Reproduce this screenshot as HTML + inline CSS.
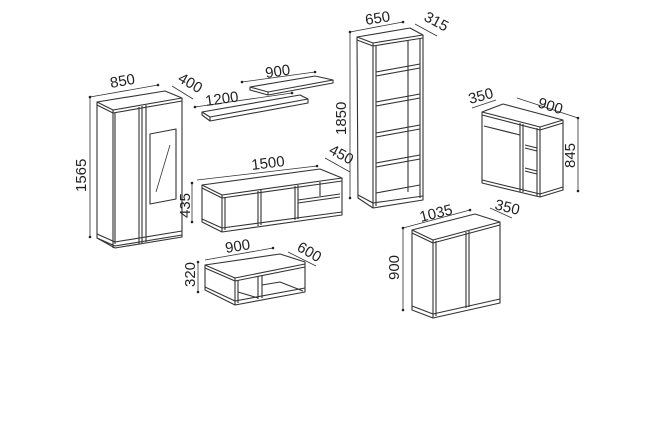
<!DOCTYPE html>
<html><head><meta charset="utf-8"><style>
html,body{margin:0;padding:0;background:#fff;}
svg{display:block}
text{font-family:"Liberation Sans",sans-serif;font-size:15px;fill:#222;stroke:none}
</style></head><body>
<svg width="655" height="425" viewBox="0 0 655 425" xmlns="http://www.w3.org/2000/svg">
<g fill="none" stroke="#333" stroke-width="1.1" stroke-linejoin="round">
<path d="M97,102 L165,91 L182,98 L182,237 L115,248 L97,238 Z" fill="#fff"/>
<path d="M97,102 L113,110 L182,98 M97,105 L113,113 L182,101"/>
<path d="M113,110 L113,248 M115,113 L115,244"/>
<path d="M139,107 L139,244 M142,106 L142,243 M146,105 L146,242"/>
<path d="M150,134 L176,129 L176,199 L150,204 Z"/>
<path d="M156,192 L170,145" stroke-width="0.8"/>
<path d="M97,234 L115,242 L182,231 M97,238 L115,246 L182,235"/>
<path d="M90,97 L158,85 M172,86 L193,99 M90,98 L90,237" stroke-width="0.8"/>
<path d="M202,112 L300,95 L308,99 L210,117 Z M210,117 L210,121 L308,103 L308,99 M202,112 L202,115 L210,121"/>
<path d="M250,87 L315,76 L333,80 L268,92 Z M268,92 L268,95 L333,83 L333,80 M250,87 L250,90 L268,95"/>
<path d="M195,107 L292,93 M242,82 L315,72" stroke-width="0.8"/>
<path d="M357,37 L410,28 L423,35 L423,200 L373,208 L358,198 Z" fill="#fff"/>
<path d="M357,37 L373,43 L423,35 M357,40 L373,46 L423,38"/>
<path d="M373,43 L373,208 M376,46 L376,206"/>
<path d="M408,40 L408,192 M420,38 L420,198"/>
<path d="M376,72 L420,64 M376,76 L420,68"/>
<path d="M376,102 L420,94 M376,106 L420,98"/>
<path d="M376,133 L420,125 M376,137 L420,129"/>
<path d="M376,163 L420,155 M376,167 L420,159"/>
<path d="M376,193 L420,185 M358,195 L373,203 L423,196"/>
<path d="M350,32 L403,22 M415,24 L437,36 M350,33 L350,198" stroke-width="0.8"/>
<path d="M482,112 L503,104 L563,120 L563,190 L540,197 L482,183 Z" fill="#fff"/>
<path d="M482,112 L540,127 L563,120 M482,115 L540,130 L563,123"/>
<path d="M540,127 L540,197 M537,128 L537,196"/>
<path d="M520,123 L520,192 M523,124 L523,192"/>
<path d="M484,126 L520,135"/>
<path d="M525,145 L537,148 M525,148 L537,151 M525,168 L537,171 M525,171 L537,174"/>
<path d="M482,180 L540,194 L563,187"/>
<path d="M472,108 L496,100 M517,98 L578,118 M578,118 L578,191" stroke-width="0.8"/>
<path d="M412,230 L475,214 L500,222 L500,303 L433,318 L412,310 Z" fill="#fff"/>
<path d="M412,230 L433,240 L500,222 M412,233 L433,243 L500,225"/>
<path d="M433,240 L433,318 M436,241 L436,316"/>
<path d="M466,232 L466,308 M469,231 L469,307"/>
<path d="M412,306 L433,314 L500,299"/>
<path d="M403,228 L470,210 M490,208 L512,218 M403,228 L403,310" stroke-width="0.8"/>
<path d="M202,185 L320,169 L342,178 L342,215 L222,232 L202,222 Z" fill="#fff"/>
<path d="M202,185 L222,195 L342,178 M202,188 L222,198 L342,181"/>
<path d="M222,195 L222,232 M225,197 L225,230"/>
<path d="M258,191 L258,226 M261,190 L261,225"/>
<path d="M295,186 L295,220 M298,185 L298,219"/>
<path d="M298,200 L340,194 M298,203 L340,197 M320,182 L320,196"/>
<path d="M202,219 L222,228 L342,212"/>
<path d="M197,180 L317,166 M325,158 L350,172 M192,183 L192,222" stroke-width="0.8"/>
<path d="M205,265 L280,254 L305,262 L305,292 L235,305 L205,290 Z" fill="#fff"/>
<path d="M205,265 L235,278 L305,264 M205,268 L235,281 L305,267"/>
<path d="M235,278 L235,305 M238,280 L238,303"/>
<path d="M258,276 L258,299 M262,275 L262,298 M262,285 L280,282 L303,291"/>
<path d="M238,292 L258,298 M205,287 L235,301 L305,288"/>
<path d="M205,260 L273,248 M288,252 L316,266 M198,262 L198,292" stroke-width="0.8"/>
</g>
<g>
<text x="111" y="88" transform="rotate(-10 111 88)">850</text>
<text x="177" y="81" transform="rotate(30 177 81)">400</text>
<text x="86" y="192" transform="rotate(-90 86 192)">1565</text>
<text x="206" y="106" transform="rotate(-8 206 106)">1200</text>
<text x="266" y="78" transform="rotate(-8 266 78)">900</text>
<text x="366" y="25" transform="rotate(-9 366 25)">650</text>
<text x="423" y="20" transform="rotate(28 423 20)">315</text>
<text x="346" y="135" transform="rotate(-90 346 135)">1850</text>
<text x="470" y="104" transform="rotate(-15 470 104)">350</text>
<text x="537" y="107" transform="rotate(17 537 107)">900</text>
<text x="575" y="168" transform="rotate(-90 575 168)">845</text>
<text x="421" y="222" transform="rotate(-14 421 222)">1035</text>
<text x="494" y="209" transform="rotate(14 494 209)">350</text>
<text x="399" y="280" transform="rotate(-90 399 280)">900</text>
<text x="252" y="170" transform="rotate(-7 252 170)">1500</text>
<text x="328" y="153" transform="rotate(28 328 153)">450</text>
<text x="190" y="218" transform="rotate(-90 190 218)">435</text>
<text x="226" y="253" transform="rotate(-9 226 253)">900</text>
<text x="296" y="250" transform="rotate(30 296 250)">600</text>
<text x="195" y="287" transform="rotate(-90 195 287)">320</text>
</g>
<g fill="#222">
<circle cx="90" cy="97" r="1.3"/><circle cx="158" cy="85" r="1.3"/><circle cx="90" cy="237" r="1.3"/>
<circle cx="195" cy="107" r="1.3"/><circle cx="292" cy="93" r="1.3"/><circle cx="242" cy="82" r="1.3"/><circle cx="315" cy="72" r="1.3"/>
<circle cx="350" cy="32" r="1.3"/><circle cx="403" cy="22" r="1.3"/><circle cx="350" cy="198" r="1.3"/>
<circle cx="578" cy="118" r="1.3"/><circle cx="578" cy="191" r="1.3"/>
<circle cx="403" cy="228" r="1.3"/><circle cx="470" cy="210" r="1.3"/><circle cx="403" cy="310" r="1.3"/>
<circle cx="192" cy="183" r="1.3"/><circle cx="192" cy="222" r="1.3"/><circle cx="317" cy="166" r="1.3"/>
<circle cx="198" cy="262" r="1.3"/><circle cx="198" cy="292" r="1.3"/><circle cx="273" cy="248" r="1.3"/>
</g>
</svg>
</body></html>
